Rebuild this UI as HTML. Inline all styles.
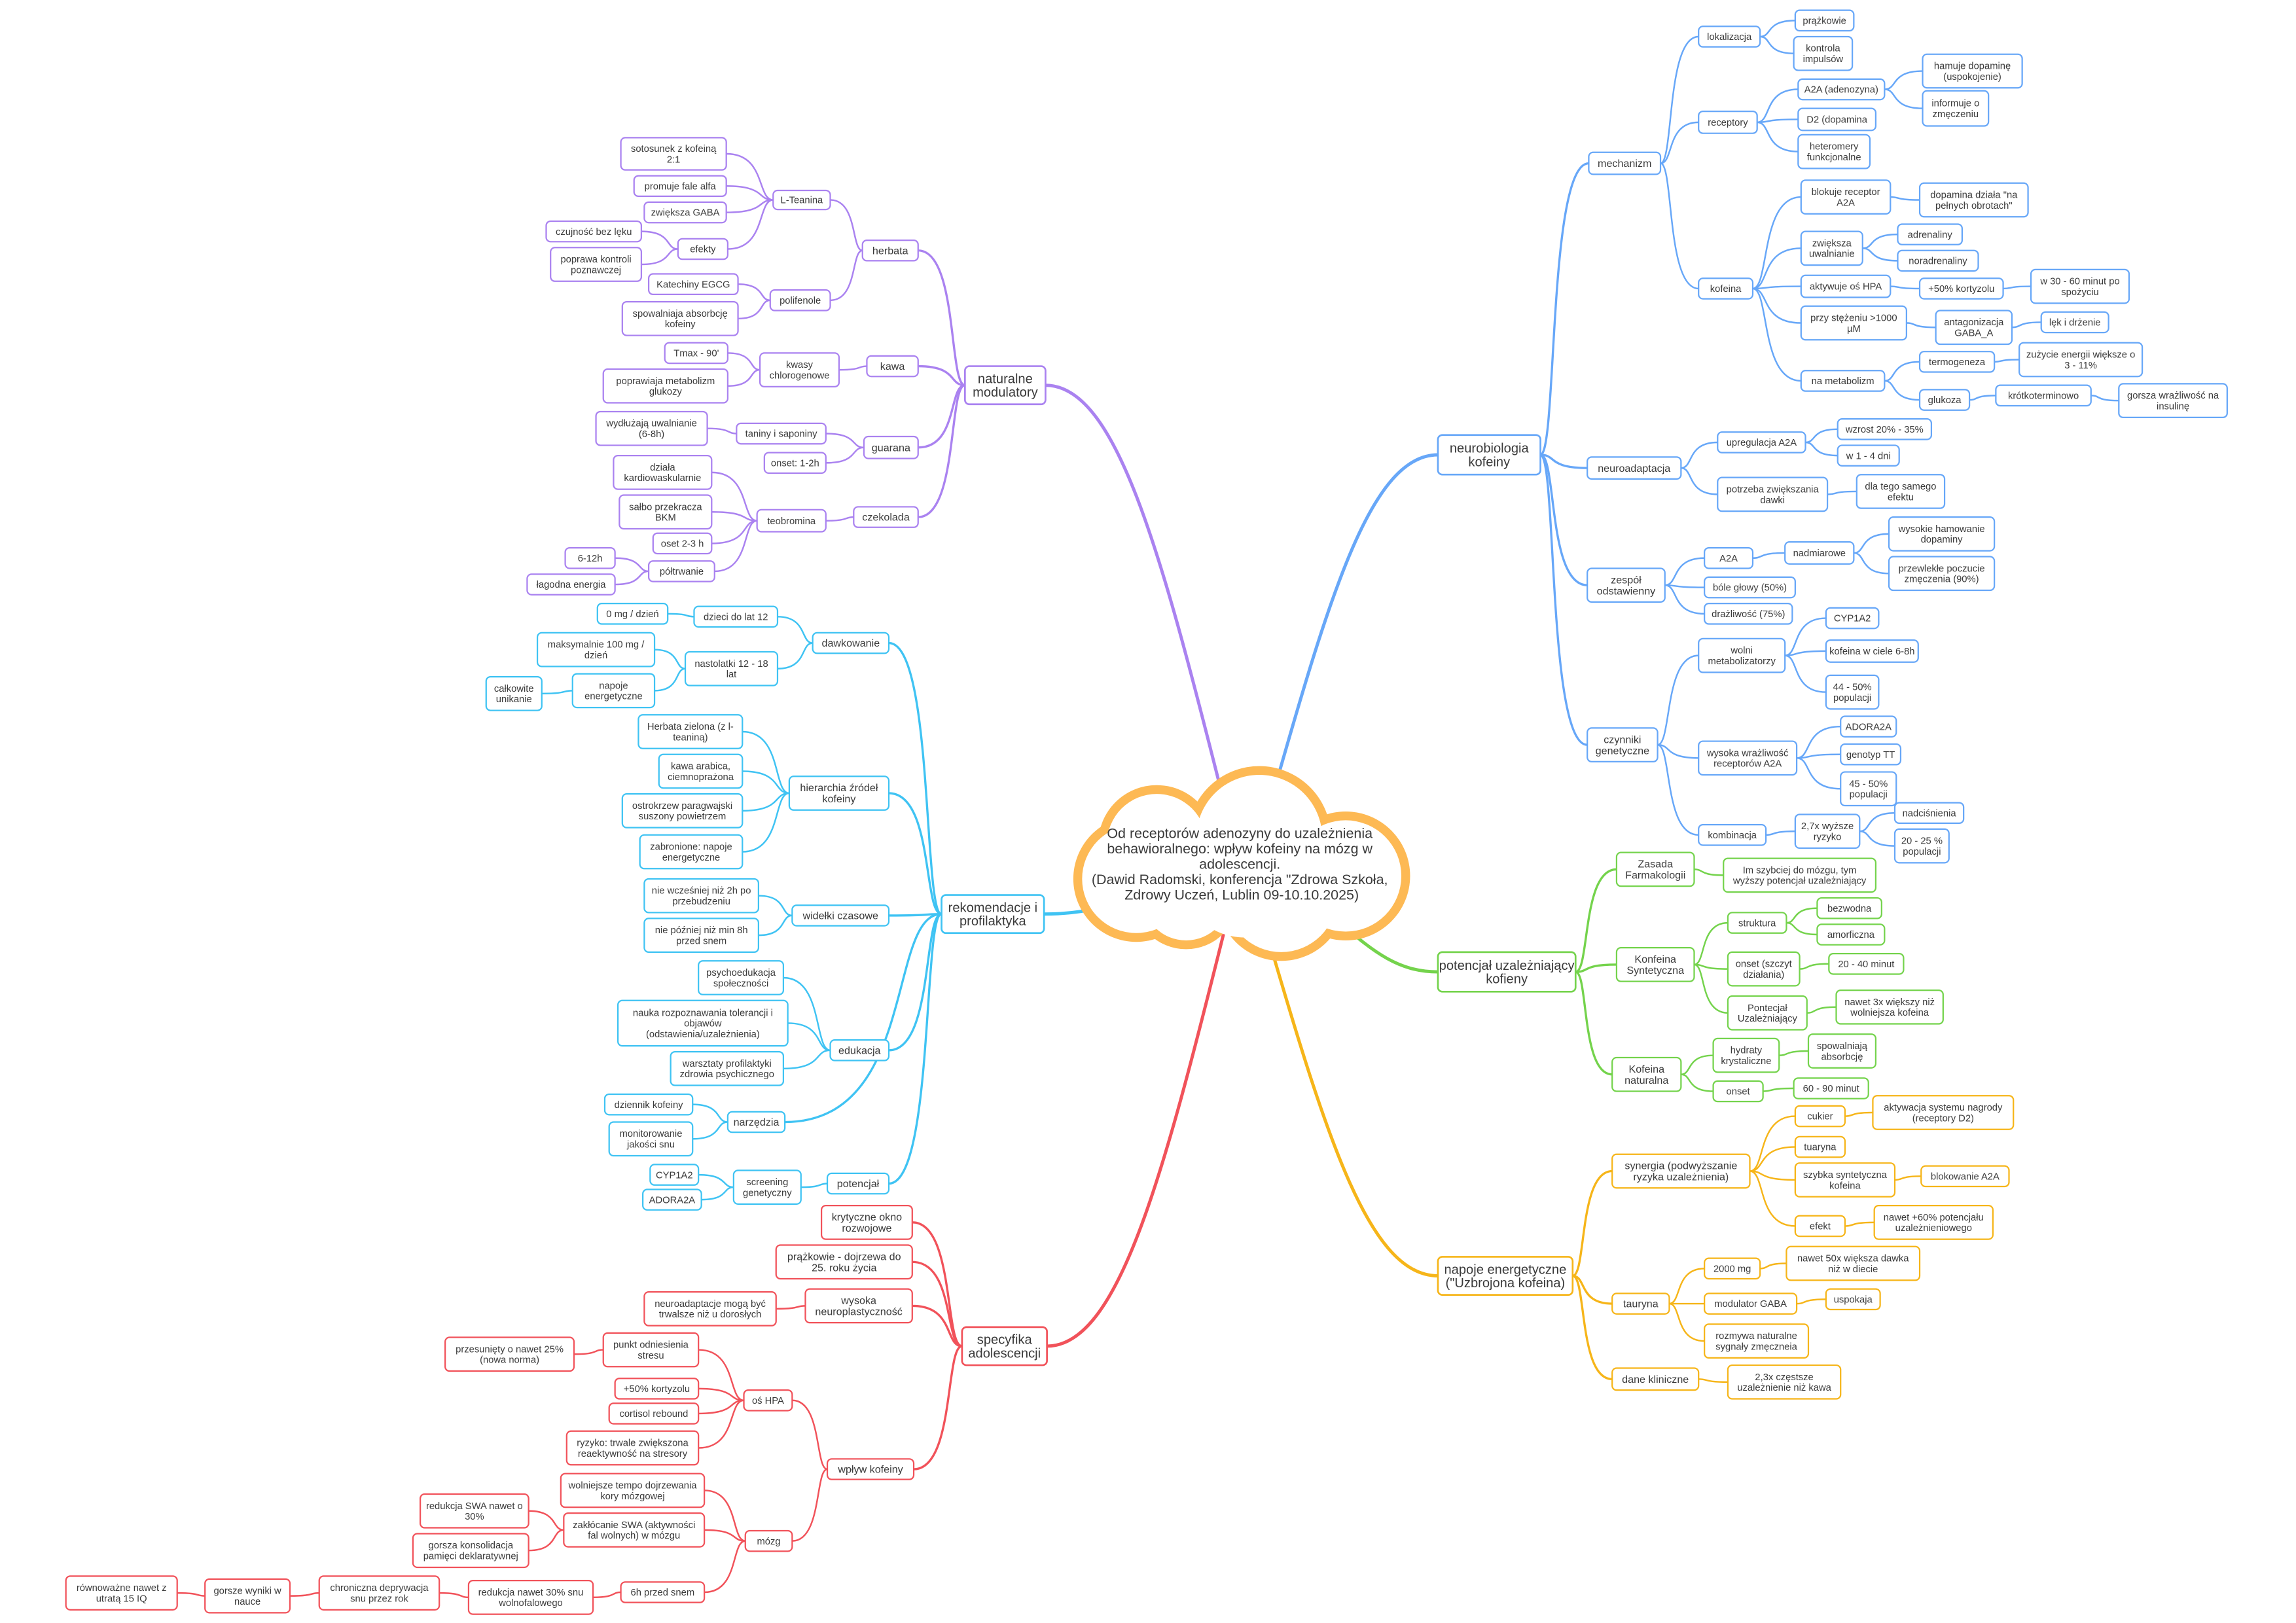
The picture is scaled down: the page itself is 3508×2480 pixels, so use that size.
<!DOCTYPE html>
<html><head><meta charset="utf-8">
<style>
html,body{margin:0;padding:0;background:#fff;width:3508px;height:2480px;overflow:hidden}
svg{display:block}
text{font-family:"Liberation Sans","DejaVu Sans",sans-serif;fill:#3a3a3a}
</style></head>
<body>
<svg id="s" xmlns="http://www.w3.org/2000/svg" width="3508" height="2480" viewBox="0 0 1568 1108" preserveAspectRatio="none">
<g id="lines" fill="none" stroke-linecap="round"></g>
<g id="cloud">
<g fill="#fdb954">
<circle cx="860" cy="572" r="49"/><circle cx="790" cy="576" r="40"/><circle cx="776" cy="600" r="43"/>
<circle cx="810" cy="612" r="36"/><circle cx="875" cy="612" r="44"/><circle cx="919" cy="598" r="44"/>
</g>
<g fill="#fff">
<circle cx="860" cy="572" r="43"/><circle cx="790" cy="576" r="34"/><circle cx="776" cy="600" r="37"/>
<circle cx="810" cy="612" r="30"/><circle cx="875" cy="612" r="38"/><circle cx="919" cy="598" r="38"/>
<circle cx="850" cy="595" r="45"/>
</g>
<text font-size="9.6" text-anchor="middle">
<tspan x="848" y="572">Od receptorów adenozyny do uzależnienia</tspan>
<tspan x="848" y="582.5">behawioralnego: wpływ kofeiny na mózg w</tspan>
<tspan x="848" y="593">adolescencji.</tspan>
<tspan x="848" y="603.5">(Dawid Radomski, konferencja "Zdrowa Szkoła,</tspan>
<tspan x="848" y="614">Zdrowy Uczeń, Lublin 09-10.10.2025)</tspan>
</text>
</g>
<g id="nodes"></g>
</svg>
<script>
var T={
blue:{c:'#67a7f8',s:1,st:[870,540],n:[982,297,1052,324,'neurobiologia|kofeiny',[
 [1085,104,1134,119,'mechanizm',[
  [1160,18,1202,32,'lokalizacja',[[1226,7,1266,21,'prążkowie'],[1225,25,1265,48,'kontrola|impulsów']]],
  [1160,76,1200,91,'receptory',[
    [1228,54,1287,68,'A2A (adenozyna)',[[1313,37,1381,60,'hamuje dopaminę|(uspokojenie)'],[1313,62,1358,86,'informuje o|zmęczeniu']]],
    [1228,74,1281,89,'D2 (dopamina'],
    [1228,92,1277,115,'heteromery|funkcjonalne']]],
  [1160,190,1197,204,'kofeina',[
    [1230,123,1291,146,'blokuje receptor|A2A',[[1311,125,1385,148,'dopamina działa "na|pełnych obrotach"']]],
    [1230,158,1272,181,'zwiększa|uwalnianie',[[1296,153,1340,167,'adrenaliny'],[1296,171,1351,185,'noradrenaliny']]],
    [1230,188,1291,203,'aktywuje oś HPA',[[1311,190,1368,204,'+50% kortyzolu',[[1387,184,1454,207,'w 30 - 60 minut po|spożyciu']]]]],
    [1230,209,1302,232,'przy stężeniu >1000|µM',[[1322,212,1374,235,'antagonizacja|GABA_A',[[1394,213,1440,227,'lęk i drżenie']]]]],
    [1230,253,1287,267,'na metabolizm',[
      [1311,240,1362,254,'termogeneza',[[1379,234,1463,257,'zużycie energii większe o|3 - 11%']]],
      [1311,266,1345,280,'glukoza',[[1363,263,1428,277,'krótkoterminowo',[[1447,262,1521,285,'gorsza wrażliwość na|insulinę']]]]]]]]]]],
 [1084,312,1148,327,'neuroadaptacja',[
  [1173,295,1233,309,'upregulacja A2A',[[1255,286,1319,300,'wzrost 20% - 35%'],[1255,304,1297,318,'w 1 - 4 dni']]],
  [1173,326,1248,349,'potrzeba zwiększania|dawki',[[1268,324,1328,347,'dla tego samego|efektu']]]]],
 [1084,388,1137,411,'zespół|odstawienny',[
  [1164,374,1197,388,'A2A',[[1219,370,1266,385,'nadmiarowe',[[1290,353,1362,376,'wysokie hamowanie|dopaminy'],[1290,380,1362,403,'przewlekłe poczucie|zmęczenia (90%)']]]]],
  [1164,394,1226,408,'bóle głowy (50%)'],
  [1164,412,1224,426,'drażliwość (75%)']]],
 [1084,497,1132,520,'czynniki|genetyczne',[
  [1160,436,1219,459,'wolni|metabolizatorzy',[[1247,415,1283,429,'CYP1A2'],[1247,437,1310,452,'kofeina w ciele 6-8h'],[1247,461,1283,484,'44 - 50%|populacji']]],
  [1160,506,1227,529,'wysoka wrażliwość|receptorów A2A',[[1257,489,1295,503,'ADORA2A'],[1257,508,1298,522,'genotyp TT'],[1257,527,1295,550,'45 - 50%|populacji']]],
  [1160,563,1206,577,'kombinacja',[[1226,556,1270,579,'2,7x wyższe|ryzyko',[[1294,548,1341,562,'nadciśnienia'],[1294,566,1331,589,'20 - 25 %|populacji']]]]]]]
]]},
green:{c:'#74d34c',s:1,st:[915,630],n:[982,650,1076,677,'potencjał uzależniający|kofieny',[
 [1104,582,1157,605,'Zasada|Farmakologii',[[1177,586,1281,609,'Im szybciej do mózgu, tym|wyższy potencjał uzależniający']]],
 [1104,647,1157,670,'Konfeina|Syntetyczna',[
  [1180,623,1220,637,'struktura',[[1241,613,1285,627,'bezwodna'],[1241,631,1287,645,'amorficzna']]],
  [1180,650,1229,673,'onset (szczyt|działania)',[[1249,651,1300,665,'20 - 40 minut']]],
  [1180,680,1234,703,'Pontecjał|Uzależniający',[[1254,676,1327,699,'nawet 3x większy niż|wolniejsza kofeina']]]]],
 [1101,722,1148,745,'Kofeina|naturalna',[
  [1170,709,1215,732,'hydraty|krystaliczne',[[1235,706,1281,729,'spowalniają|absorbcję']]],
  [1170,738,1204,752,'onset',[[1225,736,1276,750,'60 - 90 minut']]]]]
]]},
orange:{c:'#f6b519',s:1,st:[866,640],n:[982,858,1074,884,'napoje energetyczne|("Uzbrojona kofeina)',[
 [1101,788,1195,811,'synergia (podwyższanie|ryzyka uzależnienia)',[
  [1226,755,1260,769,'cukier',[[1279,748,1375,771,'aktywacja systemu nagrody|(receptory D2)']]],
  [1226,776,1260,790,'tuaryna'],
  [1226,794,1294,817,'szybka syntetyczna|kofeina',[[1312,796,1372,810,'blokowanie A2A']]],
  [1226,830,1260,844,'efekt',[[1280,823,1361,846,'nawet +60% potencjału|uzależnieniowego']]]]],
 [1101,883,1140,897,'tauryna',[
  [1164,859,1202,873,'2000 mg',[[1220,851,1311,874,'nawet 50x większa dawka|niż w diecie']]],
  [1164,883,1227,897,'modulator GABA',[[1247,880,1284,894,'uspokaja']]],
  [1164,904,1235,927,'rozmywa naturalne|sygnały zmęczneia']]],
 [1101,934,1160,949,'dane kliniczne',[[1180,932,1257,955,'2,3x częstsze|uzależnienie niż kawa']]]
]]},
purple:{c:'#aa82f0',s:-1,st:[834,540],n:[659,250,714,276,'naturalne|modulatory',[
 [589,164,627,178,'herbata',[
  [528,130,567,143,'L-Teanina',[[424,94,496,116,'sotosunek z kofeiną|2:1'],[433,120,496,134,'promuje fale alfa'],[440,138,496,152,'zwiększa GABA'],
    [463,163,497,177,'efekty',[[373,151,438,165,'czujność bez lęku'],[376,169,438,192,'poprawa kontroli|poznawczej']]]]],
  [526,198,567,212,'polifenole',[[443,187,504,201,'Katechiny EGCG'],[425,206,504,229,'spowalniaja absorbcję|kofeiny']]]]],
 [592,243,627,257,'kawa',[[519,241,573,264,'kwasy|chlorogenowe',[[454,234,497,248,"Tmax - 90'"],[412,252,497,275,'poprawiaja metabolizm|glukozy']]]]],
 [590,298,627,313,'guarana',[[503,289,564,303,'taniny i saponiny',[[407,281,483,304,'wydłużają uwalnianie|(6-8h)']]],[522,309,564,323,'onset: 1-2h']]],
 [583,346,627,360,'czekolada',[[517,348,564,363,'teobromina',[
   [419,311,486,334,'działa|kardiowaskularnie'],[423,338,486,361,'sałbo przekracza|BKM'],[446,364,486,378,'oset 2-3 h'],
   [443,383,488,397,'półtrwanie',[[386,374,420,388,'6-12h'],[360,392,420,406,'łagodna energia']]]]]]]
]]},
cyan:{c:'#3fc3f3',s:-1,st:[760,618],n:[643,611,713,637,'rekomendacje i|profilaktyka',[
 [555,432,607,446,'dawkowanie',[
  [474,414,531,428,'dzieci do lat 12',[[408,412,456,426,'0 mg / dzień']]],
  [468,445,531,468,'nastolatki 12 - 18|lat',[[367,432,447,455,'maksymalnie 100 mg /|dzień'],[391,460,447,483,'napoje|energetyczne',[[332,462,370,485,'całkowite|unikanie']]]]]]],
 [539,530,607,553,'hierarchia źródeł|kofeiny',[[436,488,507,511,'Herbata zielona (z l-|teaniną)'],[450,515,507,538,'kawa arabica,|ciemnoprażona'],[425,542,507,565,'ostrokrzew paragwajski|suszony powietrzem'],[437,570,507,593,'zabronione: napoje|energetyczne']]],
 [541,618,607,632,'widełki czasowe',[[440,600,518,623,'nie wcześniej niż 2h po|przebudzeniu'],[440,627,518,650,'nie później niż min 8h|przed snem']]],
 [567,710,607,724,'edukacja',[[477,656,535,679,'psychoedukacja|społeczności'],[422,683,538,714,'nauka rozpoznawania tolerancji i|objawów|(odstawienia/uzależnienia)'],[458,718,535,741,'warsztaty profilaktyki|zdrowia psychicznego']]],
 [497,759,536,773,'narzędzia',[[413,747,473,761,'dziennik kofeiny'],[416,766,473,789,'monitorowanie|jakości snu']]],
 [565,801,607,815,'potencjał',[[501,799,547,822,'screening|genetyczny',[[444,795,477,809,'CYP1A2'],[439,812,479,826,'ADORA2A']]]]]
]]},
red:{c:'#f1525a',s:-1,st:[836,636],n:[657,906,715,932,'specyfika|adolescencji',[
 [561,823,623,846,'krytyczne okno|rozwojowe'],
 [530,850,623,873,'prążkowie - dojrzewa do|25. roku życia'],
 [550,880,623,903,'wysoka|neuroplastyczność',[[440,882,530,905,'neuroadaptacje mogą być|trwalsze niż u dorosłych']]],
 [565,996,624,1010,'wpływ kofeiny',[
  [508,949,541,963,'oś HPA',[
   [412,910,477,933,'punkt odniesienia|stresu',[[304,913,392,936,'przesunięty o nawet 25%|(nowa norma)']]],
   [420,941,477,955,'+50% kortyzolu'],[416,958,477,972,'cortisol rebound'],[387,977,477,1000,'ryzyko: trwale zwiększona|reaektywność na stresory']]],
  [509,1045,541,1059,'mózg',[
   [383,1006,481,1029,'wolniejsze tempo dojrzewania|kory mózgowej'],
   [385,1033,481,1056,'zakłócanie SWA (aktywności|fal wolnych) w mózgu',[[287,1020,361,1043,'redukcja SWA nawet o|30%'],[282,1047,361,1070,'gorsza konsolidacja|pamięci deklaratywnej']]],
   [424,1080,481,1094,'6h przed snem',[[320,1079,405,1102,'redukcja nawet 30% snu|wolnofalowego',[[218,1076,300,1099,'chroniczna deprywacja|snu przez rok',[[140,1078,198,1101,'gorsze wyniki w|nauce',[[45,1076,121,1099,'równoważne nawet z|utratą 15 IQ']]]]]]]]]]]]]
]]}
};
var L='',N='';
function esc(t){return t.replace(/&/g,'&amp;').replace(/</g,'&lt;').replace(/>/g,'&gt;');}
function box(n,c,lvl){
  var x1=n[0],y1=n[1],x2=n[2],y2=n[3],lines=n[4].split('|');
  var fs=lvl==1?9:(lvl==2?7.2:6.6), lh=lvl==1?9.2:(lvl==2?7.6:7.3);
  N+='<rect x="'+x1+'" y="'+y1+'" width="'+(x2-x1)+'" height="'+(y2-y1)+'" rx="3" fill="#fff" stroke="'+c+'" stroke-width="'+(lvl==1?1.2:1)+'"/>';
  var cy=(y1+y2)/2, y0=cy-(lines.length-1)*lh/2+fs*0.35;
  N+='<text font-size="'+fs+'" text-anchor="middle">';
  lines.forEach(function(l,i){N+='<tspan x="'+((x1+x2)/2)+'" y="'+(y0+i*lh).toFixed(2)+'">'+esc(l)+'</tspan>';});
  N+='</text>';
}
function walk(n,c,s,lvl){
  box(n,c,lvl);
  var ch=n[5]||[];
  var px=s>0?n[2]:n[0], py=(n[1]+n[3])/2;
  ch.forEach(function(k){
    var cx=s>0?k[0]:k[2], cy=(k[1]+k[3])/2, dx=cx-px;
    L+='<path d="M'+px+','+py+' C'+(px+dx*0.35)+','+py+' '+(px+dx*0.15)+','+cy+' '+cx+','+cy+'" stroke="'+c+'" stroke-width="'+(lvl==1?1.5:1.1)+'"/>';
    walk(k,c,s,lvl+1);
  });
}
for(var k in T){
  var b=T[k],n=b.n,sx=b.st[0],sy=b.st[1];
  var ex=b.s>0?n[0]:n[2], ey=(n[1]+n[3])/2, dx=ex-sx, dy=ey-sy;
  L+='<path d="M'+sx+','+sy+' C'+(sx+dx*0.35)+','+(sy+dy*0.6)+' '+(sx+dx*0.6)+','+ey+' '+ex+','+ey+'" stroke="'+b.c+'" stroke-width="2.2"/>';
  walk(n,b.c,b.s,1);
}
document.getElementById('lines').innerHTML=L;
document.getElementById('nodes').innerHTML=N;
</script>
</body></html>
